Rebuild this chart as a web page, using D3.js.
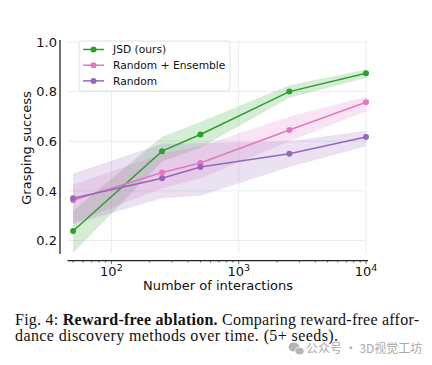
<!DOCTYPE html>
<html><head><meta charset="utf-8">
<script src="https://cdn.jsdelivr.net/npm/d3@7"></script>
<style>body{margin:0;background:#fff;}svg{display:block;}</style>
</head><body>
<svg id="c" width="432" height="365"></svg>
<script>
const interactions = [50, 250, 500, 2500, 10000];
const seriesNames = ["JSD (ours)", "Random + Ensemble", "Random"];
const jsdMean = [0.238, 0.56, 0.627, 0.80, 0.874];
const jsdLow  = [0.15, 0.518, 0.574, 0.775, 0.855];
const jsdHigh = [0.32, 0.618, 0.678, 0.826, 0.889];
const ensMean = [0.362, 0.474, 0.512, 0.645, 0.757];
const ensLow  = [0.27, 0.41, 0.45, 0.60, 0.72];
const ensHigh = [0.425, 0.55, 0.58, 0.70, 0.779];
const rndMean = [0.37, 0.451, 0.496, 0.55, 0.617];
const rndLow  = [0.265, 0.37, 0.38, 0.496, 0.58];
const rndHigh = [0.47, 0.59, 0.593, 0.60, 0.642];
const yTicks = [0.2, 0.4, 0.6, 0.8, 1.0];
const xTicks = [100, 1000, 10000];
const colors = ["#2ca02c", "#e377c2", "#9467bd"];

const svg = d3.select("#c");
const x = d3.scaleLog().domain([45.2, 10370]).range([67.5, 368]);
const y = d3.scaleLinear().domain([0.1455, 1.008]).range([254, 40]);
const gridC = "#ececec";

// grid
svg.append("g").selectAll("line").data(yTicks).join("line")
  .attr("x1", 67.5).attr("x2", 367).attr("y1", d => y(d)).attr("y2", d => y(d))
  .attr("stroke", gridC).attr("stroke-width", 1);
svg.append("g").selectAll("line").data(xTicks).join("line")
  .attr("x1", d => x(d)).attr("x2", d => x(d)).attr("y1", 40).attr("y2", 254)
  .attr("stroke", gridC).attr("stroke-width", 1);

const series = [
  {mean: jsdMean, low: jsdLow, high: jsdHigh},
  {mean: ensMean, low: ensLow, high: ensHigh},
  {mean: rndMean, low: rndLow, high: rndHigh}
];
const area = d3.area().x(d => x(d.x)).y0(d => y(d.lo)).y1(d => y(d.hi));
const line = d3.line().x(d => x(d.x)).y(d => y(d.m));
series.forEach((s, i) => {
  const pts = interactions.map((v, j) => ({x: v, m: s.mean[j], lo: s.low[j], hi: s.high[j]}));
  svg.append("path").datum(pts).attr("d", area).attr("fill", colors[i]).attr("fill-opacity", 0.2);
});
series.forEach((s, i) => {
  const pts = interactions.map((v, j) => ({x: v, m: s.mean[j], lo: s.low[j], hi: s.high[j]}));
  svg.append("path").datum(pts).attr("d", line).attr("fill", "none").attr("stroke", colors[i]).attr("stroke-width", 1.5);
  svg.append("g").selectAll("circle").data(pts).join("circle")
    .attr("cx", d => x(d.x)).attr("cy", d => y(d.m)).attr("r", 3).attr("fill", colors[i]);
});

// y axis (offset spine)
const yAxis = svg.append("g").attr("transform", "translate(60,0)")
  .call(d3.axisLeft(y).tickValues(yTicks).tickFormat(d3.format(".1f")).tickSize(0).tickPadding(3));
yAxis.select(".domain").attr("d", `M0,${y(1.008)}V${y(0.1455)}`).attr("stroke", "#222").attr("stroke-width", 1.3);
yAxis.selectAll("text").attr("font-family", "DejaVu Sans").attr("font-size", 13).attr("fill", "#111");

// x axis (offset spine)
const xg = svg.append("g").attr("transform", "translate(0,260.7)");
xg.append("line").attr("x1", 67.5).attr("x2", 368).attr("stroke", "#222").attr("stroke-width", 1.3);
const minor = [];
for (let e = 1; e <= 4; e++) for (let k = 1; k <= 9; k++) {
  const v = k * Math.pow(10, e);
  if (v >= 45.2 && v <= 10370) minor.push(v);
}
xg.selectAll("line.mn").data(minor).join("line").attr("class", "mn")
  .attr("x1", d => x(d)).attr("x2", d => x(d)).attr("y1", 0).attr("y2", d => xTicks.includes(d) ? 3.5 : 2)
  .attr("stroke", "#333").attr("stroke-width", 0.7);
const xl = xg.selectAll("text").data(xTicks).join("text")
  .attr("x", d => x(d)).attr("y", 15).attr("text-anchor", "middle")
  .attr("font-family", "DejaVu Sans").attr("font-size", 13).attr("fill", "#111");
xl.append("tspan").text("10");
xl.append("tspan").attr("dy", -5).attr("font-size", 9.5).text(d => String(Math.round(Math.log10(d))));

svg.append("text").attr("x", 218).attr("y", 290).attr("text-anchor", "middle")
  .attr("font-family", "DejaVu Sans").attr("font-size", 13).attr("fill", "#111").text("Number of interactions");
svg.append("text").attr("transform", "translate(30.5,148) rotate(-90)").attr("text-anchor", "middle")
  .attr("font-family", "DejaVu Sans").attr("font-size", 13).attr("fill", "#111").text("Grasping success");

// legend
const lg = svg.append("g");
lg.append("rect").attr("x", 79).attr("y", 41).attr("width", 151).attr("height", 50).attr("rx", 3)
  .attr("fill", "#fff").attr("fill-opacity", 0.85).attr("stroke", "#d8d8d8").attr("stroke-width", 0.8);
seriesNames.forEach((n, i) => {
  const yy = 49.5 + i * 15.7;
  lg.append("line").attr("x1", 83).attr("x2", 104).attr("y1", yy).attr("y2", yy).attr("stroke", colors[i]).attr("stroke-width", 1.5);
  lg.append("circle").attr("cx", 93.5).attr("cy", yy).attr("r", 3).attr("fill", colors[i]);
  lg.append("text").attr("x", 113).attr("y", yy + 3.8).attr("font-family", "DejaVu Sans").attr("font-size", 10.7).attr("fill", "#111").text(n);
});

// caption
const cap = svg.append("text").attr("x", 15).attr("y", 324.5).attr("font-family", "Liberation Serif").attr("font-size", 16).attr("fill", "#111")
  .attr("textLength", 404).attr("lengthAdjust", "spacing");
cap.append("tspan").text("Fig. 4: ");
cap.append("tspan").attr("font-weight", "bold").text("Reward-free ablation.");
cap.append("tspan").text(" Comparing reward-free affor-");
svg.append("text").attr("x", 15).attr("y", 340.5).attr("font-family", "Liberation Serif").attr("font-size", 16).attr("fill", "#111")
  .attr("textLength", 323).attr("lengthAdjust", "spacing")
  .text("dance discovery methods over time. (5+ seeds).");

// watermark
const wm = svg.append("g").attr("fill", "#b5b5b5");
wm.append("ellipse").attr("cx", 294).attr("cy", 347).attr("rx", 5.5).attr("ry", 4.6);
wm.append("ellipse").attr("cx", 299.5).attr("cy", 351).attr("rx", 4.6).attr("ry", 3.8).attr("stroke", "#fff").attr("stroke-width", 0.8);
svg.append("text").attr("x", 306).attr("y", 352.5).attr("font-family", "Noto Sans CJK SC").attr("font-size", 12).attr("fill", "#aaaaaa")
  .text("公众号 · 3D视觉工坊");
</script>
</body></html>
